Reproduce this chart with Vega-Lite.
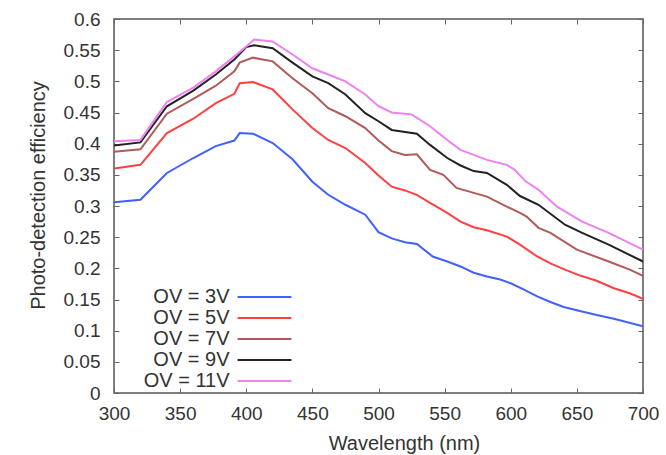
{
  "$schema": "https://vega.github.io/schema/vega-lite/v6.json",
  "autosize": "none",
  "width": 529,
  "height": 374,
  "padding": {"left": 114, "top": 19, "right": 23, "bottom": 62},
  "config": {
    "font": "Liberation Sans",
    "view": {"stroke": "#555555", "strokeWidth": 1.5},
    "axis": {"grid": false, "domain": false, "labelFlush": false, "tickSize": -5, "tickColor": "#666666", "tickWidth": 1, "labelColor": "#333333", "labelFontSize": 19, "titleFontSize": 20, "titleFontWeight": "normal", "titleColor": "#333333", "labelFont": "Liberation Sans", "titleFont": "Liberation Sans"}
  },
  "data": {"values": [
    {"wl":300,"pde":0.306,"s":"OV = 3V"},{"wl":320,"pde":0.310,"s":"OV = 3V"},{"wl":340,"pde":0.353,"s":"OV = 3V"},{"wl":360,"pde":0.377,"s":"OV = 3V"},{"wl":377,"pde":0.396,"s":"OV = 3V"},{"wl":391,"pde":0.405,"s":"OV = 3V"},{"wl":395,"pde":0.417,"s":"OV = 3V"},{"wl":405,"pde":0.416,"s":"OV = 3V"},{"wl":420,"pde":0.401,"s":"OV = 3V"},{"wl":435,"pde":0.375,"s":"OV = 3V"},{"wl":450,"pde":0.339,"s":"OV = 3V"},{"wl":462,"pde":0.318,"s":"OV = 3V"},{"wl":475,"pde":0.302,"s":"OV = 3V"},{"wl":490,"pde":0.286,"s":"OV = 3V"},{"wl":500,"pde":0.258,"s":"OV = 3V"},{"wl":510,"pde":0.248,"s":"OV = 3V"},{"wl":520,"pde":0.242,"s":"OV = 3V"},{"wl":529,"pde":0.239,"s":"OV = 3V"},{"wl":541,"pde":0.219,"s":"OV = 3V"},{"wl":552,"pde":0.211,"s":"OV = 3V"},{"wl":562,"pde":0.203,"s":"OV = 3V"},{"wl":572,"pde":0.193,"s":"OV = 3V"},{"wl":582,"pde":0.187,"s":"OV = 3V"},{"wl":592,"pde":0.182,"s":"OV = 3V"},{"wl":600,"pde":0.176,"s":"OV = 3V"},{"wl":610,"pde":0.166,"s":"OV = 3V"},{"wl":620,"pde":0.155,"s":"OV = 3V"},{"wl":630,"pde":0.146,"s":"OV = 3V"},{"wl":640,"pde":0.138,"s":"OV = 3V"},{"wl":653,"pde":0.131,"s":"OV = 3V"},{"wl":665,"pde":0.125,"s":"OV = 3V"},{"wl":678,"pde":0.119,"s":"OV = 3V"},{"wl":700,"pde":0.107,"s":"OV = 3V"},

    {"wl":300,"pde":0.360,"s":"OV = 5V"},{"wl":320,"pde":0.366,"s":"OV = 5V"},{"wl":340,"pde":0.417,"s":"OV = 5V"},{"wl":360,"pde":0.440,"s":"OV = 5V"},{"wl":377,"pde":0.465,"s":"OV = 5V"},{"wl":391,"pde":0.480,"s":"OV = 5V"},{"wl":395,"pde":0.497,"s":"OV = 5V"},{"wl":405,"pde":0.499,"s":"OV = 5V"},{"wl":420,"pde":0.487,"s":"OV = 5V"},{"wl":435,"pde":0.455,"s":"OV = 5V"},{"wl":450,"pde":0.425,"s":"OV = 5V"},{"wl":462,"pde":0.406,"s":"OV = 5V"},{"wl":475,"pde":0.393,"s":"OV = 5V"},{"wl":490,"pde":0.369,"s":"OV = 5V"},{"wl":500,"pde":0.349,"s":"OV = 5V"},{"wl":510,"pde":0.331,"s":"OV = 5V"},{"wl":520,"pde":0.325,"s":"OV = 5V"},{"wl":529,"pde":0.318,"s":"OV = 5V"},{"wl":539,"pde":0.305,"s":"OV = 5V"},{"wl":552,"pde":0.289,"s":"OV = 5V"},{"wl":562,"pde":0.275,"s":"OV = 5V"},{"wl":572,"pde":0.266,"s":"OV = 5V"},{"wl":582,"pde":0.261,"s":"OV = 5V"},{"wl":597,"pde":0.251,"s":"OV = 5V"},{"wl":607,"pde":0.238,"s":"OV = 5V"},{"wl":620,"pde":0.219,"s":"OV = 5V"},{"wl":630,"pde":0.208,"s":"OV = 5V"},{"wl":641,"pde":0.198,"s":"OV = 5V"},{"wl":653,"pde":0.188,"s":"OV = 5V"},{"wl":665,"pde":0.180,"s":"OV = 5V"},{"wl":678,"pde":0.168,"s":"OV = 5V"},{"wl":690,"pde":0.160,"s":"OV = 5V"},{"wl":700,"pde":0.151,"s":"OV = 5V"},

    {"wl":300,"pde":0.387,"s":"OV = 7V"},{"wl":320,"pde":0.391,"s":"OV = 7V"},{"wl":340,"pde":0.448,"s":"OV = 7V"},{"wl":360,"pde":0.472,"s":"OV = 7V"},{"wl":377,"pde":0.493,"s":"OV = 7V"},{"wl":391,"pde":0.516,"s":"OV = 7V"},{"wl":395,"pde":0.530,"s":"OV = 7V"},{"wl":405,"pde":0.538,"s":"OV = 7V"},{"wl":420,"pde":0.532,"s":"OV = 7V"},{"wl":435,"pde":0.505,"s":"OV = 7V"},{"wl":450,"pde":0.481,"s":"OV = 7V"},{"wl":462,"pde":0.457,"s":"OV = 7V"},{"wl":475,"pde":0.444,"s":"OV = 7V"},{"wl":490,"pde":0.425,"s":"OV = 7V"},{"wl":500,"pde":0.405,"s":"OV = 7V"},{"wl":510,"pde":0.388,"s":"OV = 7V"},{"wl":520,"pde":0.382,"s":"OV = 7V"},{"wl":529,"pde":0.383,"s":"OV = 7V"},{"wl":539,"pde":0.358,"s":"OV = 7V"},{"wl":549,"pde":0.350,"s":"OV = 7V"},{"wl":559,"pde":0.329,"s":"OV = 7V"},{"wl":572,"pde":0.321,"s":"OV = 7V"},{"wl":582,"pde":0.315,"s":"OV = 7V"},{"wl":597,"pde":0.299,"s":"OV = 7V"},{"wl":607,"pde":0.289,"s":"OV = 7V"},{"wl":612,"pde":0.283,"s":"OV = 7V"},{"wl":621,"pde":0.265,"s":"OV = 7V"},{"wl":630,"pde":0.257,"s":"OV = 7V"},{"wl":650,"pde":0.230,"s":"OV = 7V"},{"wl":674,"pde":0.211,"s":"OV = 7V"},{"wl":690,"pde":0.198,"s":"OV = 7V"},{"wl":700,"pde":0.188,"s":"OV = 7V"},

    {"wl":300,"pde":0.397,"s":"OV = 9V"},{"wl":320,"pde":0.402,"s":"OV = 9V"},{"wl":340,"pde":0.460,"s":"OV = 9V"},{"wl":360,"pde":0.485,"s":"OV = 9V"},{"wl":377,"pde":0.511,"s":"OV = 9V"},{"wl":391,"pde":0.535,"s":"OV = 9V"},{"wl":400,"pde":0.555,"s":"OV = 9V"},{"wl":406,"pde":0.558,"s":"OV = 9V"},{"wl":420,"pde":0.553,"s":"OV = 9V"},{"wl":435,"pde":0.530,"s":"OV = 9V"},{"wl":450,"pde":0.508,"s":"OV = 9V"},{"wl":462,"pde":0.497,"s":"OV = 9V"},{"wl":475,"pde":0.479,"s":"OV = 9V"},{"wl":490,"pde":0.449,"s":"OV = 9V"},{"wl":500,"pde":0.436,"s":"OV = 9V"},{"wl":510,"pde":0.422,"s":"OV = 9V"},{"wl":529,"pde":0.416,"s":"OV = 9V"},{"wl":539,"pde":0.398,"s":"OV = 9V"},{"wl":552,"pde":0.377,"s":"OV = 9V"},{"wl":562,"pde":0.365,"s":"OV = 9V"},{"wl":572,"pde":0.356,"s":"OV = 9V"},{"wl":582,"pde":0.353,"s":"OV = 9V"},{"wl":597,"pde":0.334,"s":"OV = 9V"},{"wl":607,"pde":0.316,"s":"OV = 9V"},{"wl":621,"pde":0.302,"s":"OV = 9V"},{"wl":641,"pde":0.270,"s":"OV = 9V"},{"wl":654,"pde":0.257,"s":"OV = 9V"},{"wl":674,"pde":0.238,"s":"OV = 9V"},{"wl":700,"pde":0.211,"s":"OV = 9V"},

    {"wl":300,"pde":0.404,"s":"OV = 11V"},{"wl":320,"pde":0.406,"s":"OV = 11V"},{"wl":340,"pde":0.467,"s":"OV = 11V"},{"wl":360,"pde":0.490,"s":"OV = 11V"},{"wl":377,"pde":0.516,"s":"OV = 11V"},{"wl":391,"pde":0.540,"s":"OV = 11V"},{"wl":400,"pde":0.556,"s":"OV = 11V"},{"wl":406,"pde":0.567,"s":"OV = 11V"},{"wl":420,"pde":0.564,"s":"OV = 11V"},{"wl":435,"pde":0.543,"s":"OV = 11V"},{"wl":450,"pde":0.521,"s":"OV = 11V"},{"wl":462,"pde":0.511,"s":"OV = 11V"},{"wl":475,"pde":0.500,"s":"OV = 11V"},{"wl":490,"pde":0.479,"s":"OV = 11V"},{"wl":500,"pde":0.460,"s":"OV = 11V"},{"wl":510,"pde":0.450,"s":"OV = 11V"},{"wl":525,"pde":0.447,"s":"OV = 11V"},{"wl":539,"pde":0.428,"s":"OV = 11V"},{"wl":552,"pde":0.406,"s":"OV = 11V"},{"wl":562,"pde":0.390,"s":"OV = 11V"},{"wl":572,"pde":0.382,"s":"OV = 11V"},{"wl":582,"pde":0.374,"s":"OV = 11V"},{"wl":597,"pde":0.366,"s":"OV = 11V"},{"wl":603,"pde":0.358,"s":"OV = 11V"},{"wl":611,"pde":0.340,"s":"OV = 11V"},{"wl":621,"pde":0.326,"s":"OV = 11V"},{"wl":635,"pde":0.299,"s":"OV = 11V"},{"wl":654,"pde":0.275,"s":"OV = 11V"},{"wl":674,"pde":0.257,"s":"OV = 11V"},{"wl":700,"pde":0.230,"s":"OV = 11V"}
  ]},
  "layer": [
    {
      "mark": {"type": "line", "strokeWidth": 2, "clip": true},
      "encoding": {
        "x": {"field": "wl", "type": "quantitative", "scale": {"domain": [300, 700], "nice": false}, "axis": {"values": [300,350,400,450,500,550,600,650,700], "title": "Wavelength (nm)", "labelPadding": 16, "titlePadding": 10, "titleX": 290}},
        "y": {"field": "pde", "type": "quantitative", "scale": {"domain": [0, 0.6], "nice": false}, "axis": {"values": [0,0.05,0.1,0.15,0.2,0.25,0.3,0.35,0.4,0.45,0.5,0.55,0.6], "format": "~g", "title": "Photo-detection efficiency", "labelPadding": 19, "titlePadding": 15, "titleY": 176}},
        "color": {"field": "s", "type": "nominal", "sort": ["OV = 3V","OV = 5V","OV = 7V","OV = 9V","OV = 11V"],
          "scale": {"domain": ["OV = 3V","OV = 5V","OV = 7V","OV = 9V","OV = 11V"], "range": ["#4060ff","#ff4040","#b05a5a","#222222","#f080f0"]},
          "legend": {"orient": "none", "legendX": 140.5, "legendY": 268, "title": null, "symbolType": "M-5,0H5", "symbolSize": 116, "symbolStrokeWidth": 2, "labelFontSize": 20, "labelColor": "#333333", "labelFont": "Liberation Sans", "labelAlign": "right", "labelOffset": -45, "rowPadding": 1, "padding": 0}
        }
      }
    },
    {
      "mark": {"type": "line", "opacity": 0},
      "encoding": {
        "x": {"field": "wl", "type": "quantitative", "scale": {"domain": [300, 700], "nice": false}, "axis": {"orient": "top", "values": [300,350,400,450,500,550,600,650,700], "labels": false, "title": null}},
        "y": {"field": "pde", "type": "quantitative", "scale": {"domain": [0, 0.6], "nice": false}, "axis": {"orient": "right", "values": [0,0.05,0.1,0.15,0.2,0.25,0.3,0.35,0.4,0.45,0.5,0.55,0.6], "labels": false, "title": null}},
        "detail": {"field": "s"}
      }
    }
  ],
  "resolve": {"axis": {"x": "independent", "y": "independent"}}
}
